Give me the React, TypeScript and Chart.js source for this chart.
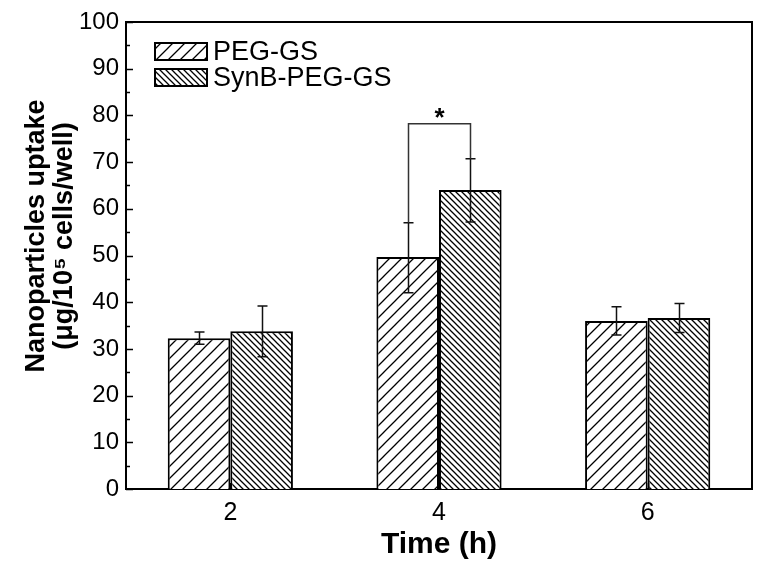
import React, { useEffect, useRef } from "react";
import { Chart, registerables } from "chart.js";

Chart.register(...registerables);

const categories = ["2", "4", "6"];
const seriesNames = ["PEG-GS", "SynB-PEG-GS"];
const pegValues = [32.3, 49.7, 36.0];
const pegErrLow = [31.0, 42.0, 33.0];
const pegErrHigh = [33.6, 57.0, 39.0];
const synbValues = [33.8, 64.0, 36.6];
const synbErrLow = [28.3, 57.2, 33.5];
const synbErrHigh = [39.2, 70.7, 39.7];
const yMin = 0;
const yMax = 100;
const yStep = 10;
const yMinorStep = 5;
const bracketValue = 78.2;
const bracketCategory = 1;
const bracketLabel = "*";
const yTitleLines = ["Nanoparticles uptake", "(μg/10⁵ cells/well)"];
const xTitle = "Time (h)";

const FONT = "'Liberation Sans', Arial, sans-serif";

function makeSimpleHatch(size: number, forward: boolean, lw: number): CanvasPattern | string {
  const c = document.createElement("canvas");
  c.width = size;
  c.height = size;
  const g = c.getContext("2d");
  if (!g) return "#fff";
  g.fillStyle = "#fff";
  g.fillRect(0, 0, size, size);
  g.strokeStyle = "#000";
  g.lineWidth = lw;
  g.beginPath();
  if (forward) {
    g.moveTo(0, size);
    g.lineTo(size, 0);
    g.moveTo(-size / 2, size / 2);
    g.lineTo(size / 2, -size / 2);
    g.moveTo(size / 2, size * 1.5);
    g.lineTo(size * 1.5, size / 2);
  } else {
    g.moveTo(0, 0);
    g.lineTo(size, size);
    g.moveTo(-size / 2, size / 2);
    g.lineTo(size / 2, size * 1.5);
    g.moveTo(size / 2, -size / 2);
    g.lineTo(size * 1.5, size / 2);
  }
  g.stroke();
  const p = g.createPattern(c, "repeat");
  return p || "#fff";
}

export default function App() {
  const ref = useRef<HTMLCanvasElement | null>(null);

  useEffect(() => {
    if (!ref.current) return;
    const pegPattern = makeSimpleHatch(12, true, 1.3);
    const synbPattern = makeSimpleHatch(6, false, 1.3);
    const patterns = [pegPattern, synbPattern];
    const lows = [pegErrLow, synbErrLow];
    const highs = [pegErrHigh, synbErrHigh];

    const overlay = {
      id: "overlay",
      afterDatasetsDraw(chart: any) {
        const ctx = chart.ctx;
        const ys = chart.scales.y;
        const xs = chart.scales.x;
        const area = chart.chartArea;
        ctx.save();
        // error bars
        ctx.strokeStyle = "#111";
        ctx.lineWidth = 1.5;
        for (let d = 0; d < 2; d++) {
          const meta = chart.getDatasetMeta(d);
          meta.data.forEach((bar: any, j: number) => {
            const x = Math.round(bar.x) + 0.5;
            const yl = ys.getPixelForValue(lows[d][j]);
            const yh = ys.getPixelForValue(highs[d][j]);
            ctx.beginPath();
            ctx.moveTo(x, yl);
            ctx.lineTo(x, yh);
            ctx.moveTo(x - 5, yl);
            ctx.lineTo(x + 5, yl);
            ctx.moveTo(x - 5, yh);
            ctx.lineTo(x + 5, yh);
            ctx.stroke();
          });
        }
        // significance bracket
        const b0 = chart.getDatasetMeta(0).data[bracketCategory];
        const b1 = chart.getDatasetMeta(1).data[bracketCategory];
        const xl = Math.round(b0.x) + 0.5;
        const xr = Math.round(b1.x) + 0.5;
        const yb = ys.getPixelForValue(bracketValue);
        ctx.strokeStyle = "#333";
        ctx.lineWidth = 1.5;
        ctx.beginPath();
        ctx.moveTo(xl, ys.getPixelForValue(pegErrHigh[bracketCategory]));
        ctx.lineTo(xl, yb);
        ctx.lineTo(xr, yb);
        ctx.lineTo(xr, ys.getPixelForValue(synbErrHigh[bracketCategory]));
        ctx.stroke();
        ctx.fillStyle = "#000";
        ctx.font = `bold 26px ${FONT}`;
        ctx.textAlign = "center";
        ctx.textBaseline = "middle";
        ctx.fillText(bracketLabel, (xl + xr) / 2, yb - 5);

        // frame top/right
        ctx.strokeStyle = "#000";
        ctx.lineWidth = 2;
        ctx.beginPath();
        ctx.moveTo(area.left, area.top);
        ctx.lineTo(area.right, area.top);
        ctx.lineTo(area.right, area.bottom);
        ctx.stroke();

        // y ticks inward
        ctx.lineWidth = 1.5;
        ctx.beginPath();
        for (let v = yMin; v <= yMax; v += yMinorStep) {
          const y = Math.round(ys.getPixelForValue(v)) + 0.5;
          const len = v % yStep === 0 ? 7 : 4;
          ctx.moveTo(area.left, y);
          ctx.lineTo(area.left + len, y);
        }
        // x ticks inward
        xs.ticks.forEach((_t: any, i: number) => {
          const x = Math.round(xs.getPixelForTick(i)) + 0.5;
          ctx.moveTo(x, area.bottom);
          ctx.lineTo(x, area.bottom - 6);
        });
        ctx.stroke();

        // legend
        const lx = 155;
        const ly = [43, 69];
        for (let d = 0; d < 2; d++) {
          ctx.fillStyle = patterns[d] as any;
          ctx.fillRect(lx, ly[d], 52, 17);
          ctx.strokeStyle = "#000";
          ctx.lineWidth = 2;
          ctx.strokeRect(lx, ly[d], 52, 17);
          ctx.fillStyle = "#000";
          ctx.font = `27px ${FONT}`;
          ctx.textAlign = "left";
          ctx.textBaseline = "middle";
          ctx.fillText(seriesNames[d], lx + 58, ly[d] + 9.5);
        }

        // axis titles
        ctx.fillStyle = "#000";
        ctx.font = `bold 30px ${FONT}`;
        ctx.textAlign = "center";
        ctx.textBaseline = "middle";
        ctx.fillText(xTitle, (area.left + area.right) / 2, 545);
        ctx.font = `bold 27px ${FONT}`;
        ctx.save();
        ctx.translate(37, 236);
        ctx.rotate(-Math.PI / 2);
        ctx.fillText(yTitleLines[0], 0, 0);
        ctx.restore();
        ctx.save();
        ctx.translate(65, 236);
        ctx.rotate(-Math.PI / 2);
        ctx.fillText(yTitleLines[1], 0, 0);
        ctx.restore();

        ctx.restore();
      },
    };

    const chart = new Chart(ref.current, {
      type: "bar",
      data: {
        labels: categories,
        datasets: [
          {
            label: seriesNames[0],
            data: pegValues,
            backgroundColor: pegPattern as any,
            borderColor: "#000",
            borderWidth: 2,
            categoryPercentage: 0.6,
            barPercentage: 1.0,
          },
          {
            label: seriesNames[1],
            data: synbValues,
            backgroundColor: synbPattern as any,
            borderColor: "#000",
            borderWidth: 2,
            categoryPercentage: 0.6,
            barPercentage: 1.0,
          },
        ],
      },
      options: {
        animation: false,
        responsive: false,
        maintainAspectRatio: false,
        events: [],
        layout: { padding: { left: 0, right: 11, top: 22, bottom: 0 } },
        plugins: {
          legend: { display: false },
          tooltip: { enabled: false },
          title: { display: false },
        },
        scales: {
          x: {
            grid: { display: false, drawTicks: false },
            border: { display: true, color: "#000", width: 2 },
            ticks: { color: "#000", font: { size: 25, family: FONT }, padding: 9 },
            afterFit: (s: any) => {
              s.height = 80;
            },
          },
          y: {
            min: yMin,
            max: yMax,
            grid: { display: false, drawTicks: false },
            border: { display: true, color: "#000", width: 2 },
            ticks: {
              stepSize: yStep,
              color: "#000",
              font: { size: 24, family: FONT },
              padding: 7,
            },
            afterFit: (s: any) => {
              s.width = 126;
            },
          },
        },
      },
      plugins: [overlay],
    });
    return () => chart.destroy();
  }, []);

  return (
    <div style={{ position: "fixed", left: 0, top: 0, width: 763, height: 569, background: "#fff" }}>
      <canvas ref={ref} width={763} height={569} style={{ width: 763, height: 569 }} />
    </div>
  );
}
